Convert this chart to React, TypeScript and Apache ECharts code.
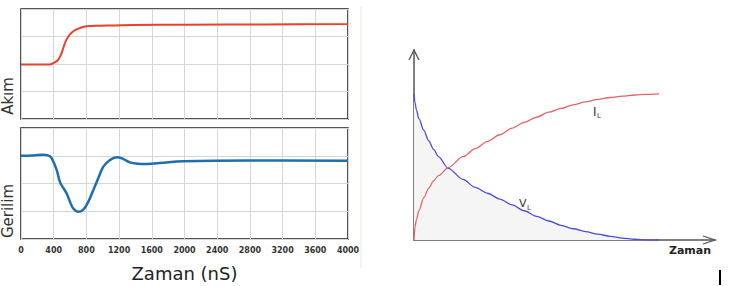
import React, { useEffect, useRef } from "react";
import * as echarts from "echarts";

// Left top panel: current (Akım) vs time in nS
const akimData: [number, number][] = [
  [0, 1.98], [200, 1.98], [350, 1.98], [395, 2.03], [456, 2.16], [497, 2.4], [538, 2.76],
  [579, 3.0], [640, 3.19], [722, 3.31], [803, 3.37], [966, 3.39], [1374, 3.42],
  [2000, 3.43], [3000, 3.44], [4000, 3.45],
];

// Left bottom panel: voltage (Gerilim) vs time in nS
const gerilimData: [number, number][] = [
  [0, 3.0], [150, 3.01], [273, 3.04], [355, 2.98], [395, 2.79], [436, 2.49], [477, 2.05],
  [517, 1.84], [559, 1.64], [599, 1.34], [640, 1.1], [701, 0.98], [762, 1.06], [823, 1.34],
  [884, 1.76], [945, 2.19], [1007, 2.61], [1088, 2.85], [1170, 2.95], [1252, 2.88],
  [1333, 2.76], [1435, 2.71], [1500, 2.7], [1700, 2.74], [1985, 2.8], [2800, 2.83], [4000, 2.82],
];

const timeTicks = { min: 0, max: 4000, interval: 400 };

// Right chart: inductor current and voltage (time in τ units)
const iLData: [number, number][] = [
  [0, 0], [0.02, 0.09], [0.05, 0.14], [0.1, 0.2], [0.2, 0.29], [0.3, 0.355], [0.4, 0.405],
  [0.5, 0.44], [0.7, 0.495], [1.0, 0.57], [1.25, 0.625], [1.5, 0.675], [1.75, 0.72],
  [2.0, 0.765], [2.25, 0.805], [2.5, 0.84], [2.75, 0.875], [3.0, 0.9], [3.25, 0.925],
  [3.5, 0.945], [3.75, 0.962], [4.0, 0.975], [4.25, 0.985], [4.5, 0.992], [4.75, 0.997], [5.0, 1.0],
];
const vLData: [number, number][] = [
  [0, 1.0], [0.02, 0.94], [0.05, 0.89], [0.1, 0.83], [0.2, 0.75], [0.3, 0.68], [0.4, 0.62],
  [0.5, 0.57], [0.7, 0.49], [1.0, 0.415], [1.25, 0.36], [1.5, 0.32], [1.75, 0.28],
  [2.0, 0.24], [2.25, 0.2], [2.5, 0.162], [2.75, 0.13], [3.0, 0.1], [3.25, 0.077],
  [3.5, 0.057], [3.75, 0.04], [4.0, 0.025], [4.25, 0.013], [4.5, 0.005], [4.75, 0.001], [5.0, 0],
];

const W = 729;
const H = 286;
const FONT = "DejaVu Sans";

const G0 = { left: 21, top: 9, width: 327, height: 110 };
const G1 = { left: 21, top: 128, width: 327, height: 111 };
const G2 = { left: 414, top: 50, width: 301, height: 190 };

export default function App() {
  const ref = useRef<HTMLDivElement>(null);
  useEffect(() => {
    if (!ref.current) return;
    const chart = echarts.init(ref.current, undefined, { renderer: "svg" });
    const panelGrid = (g: typeof G0) => ({
      ...g,
      show: true,
      borderColor: "#1c1c1c",
      borderWidth: 1.5,
      backgroundColor: "#fff",
    });
    const split = { show: true, lineStyle: { color: "#d6d6d6", width: 1 } };
    const r2Bottom = G2.top + G2.height;
    const r2Right = G2.left + G2.width;
    chart.setOption({
      animation: false,
      backgroundColor: "#fff",
      textStyle: { fontFamily: FONT },
      grid: [panelGrid(G0), panelGrid(G1), { ...G2, show: false }],
      xAxis: [
        {
          gridIndex: 0, type: "value", ...timeTicks,
          axisLabel: { show: false }, axisLine: { show: false }, axisTick: { show: false },
          splitLine: split,
        },
        {
          gridIndex: 1, type: "value", ...timeTicks,
          axisLabel: {
            show: true, fontSize: 8, fontWeight: "bold", color: "#333", margin: 7, fontFamily: FONT,
            formatter: (v: number) => String(v),
          },
          axisLine: { show: false }, axisTick: { show: false }, splitLine: split,
          name: "Zaman (nS)", nameLocation: "middle", nameGap: 25,
          nameTextStyle: { fontSize: 18, color: "#222", fontFamily: FONT },
        },
        {
          gridIndex: 2, type: "value", min: 0, max: 6.14,
          axisLabel: { show: false }, axisTick: { show: false }, splitLine: { show: false },
          axisLine: { show: true, lineStyle: { color: "#555", width: 1.5 } },
        },
      ],
      yAxis: [
        {
          gridIndex: 0, type: "value", min: 0, max: 4, interval: 1,
          axisLabel: { show: false }, axisLine: { show: false }, axisTick: { show: false },
          splitLine: split,
        },
        {
          gridIndex: 1, type: "value", min: 0, max: 4, interval: 1,
          axisLabel: { show: false }, axisLine: { show: false }, axisTick: { show: false },
          splitLine: split,
        },
        {
          gridIndex: 2, type: "value", min: 0, max: 1.3,
          axisLabel: { show: false }, axisTick: { show: false }, splitLine: { show: false },
          axisLine: { show: true, lineStyle: { color: "#555", width: 1.5 } },
        },
      ],
      series: [
        {
          name: "Akım", type: "line", xAxisIndex: 0, yAxisIndex: 0, data: akimData,
          smooth: 0.4, symbol: "none", lineStyle: { color: "#e8412c", width: 2 },
        },
        {
          name: "Gerilim", type: "line", xAxisIndex: 1, yAxisIndex: 1, data: gerilimData,
          smooth: 0.4, symbol: "none", lineStyle: { color: "#1f6fad", width: 2.5 },
        },
        {
          name: "VL", type: "line", xAxisIndex: 2, yAxisIndex: 2, data: vLData,
          smooth: 0.3, smoothMonotone: "x", symbol: "none", lineStyle: { color: "#4b4bdc", width: 1.3 },
          areaStyle: { color: "#f5f5f5", opacity: 1 },
        },
        {
          name: "IL", type: "line", xAxisIndex: 2, yAxisIndex: 2, data: iLData,
          smooth: 0.3, smoothMonotone: "x", symbol: "none", lineStyle: { color: "#e06464", width: 1.3 },
        },
      ],
      graphic: [
        {
          type: "text", x: 8, y: G0.top + 87, rotation: Math.PI / 2,
          style: { text: "Akım", fontSize: 15, fontFamily: FONT, fill: "#333", align: "center", verticalAlign: "middle" },
        },
        {
          type: "text", x: 8, y: G1.top + 83, rotation: Math.PI / 2,
          style: { text: "Gerilim", fontSize: 15, fontFamily: FONT, fill: "#333", align: "center", verticalAlign: "middle" },
        },
        {
          type: "line", shape: { x1: 361, y1: 7, x2: 361, y2: 268 },
          style: { stroke: "#ece7d8", lineWidth: 1 },
        },
        {
          type: "polyline",
          shape: { points: [[G2.left - 5, G2.top + 10], [G2.left, G2.top], [G2.left + 5, G2.top + 10]] },
          style: { stroke: "#555", lineWidth: 1.3, fill: "none" },
        },
        {
          type: "polyline",
          shape: { points: [[r2Right - 12, r2Bottom - 4], [r2Right, r2Bottom], [r2Right - 12, r2Bottom + 4]] },
          style: { stroke: "#555", lineWidth: 1.3, fill: "none" },
        },
        {
          type: "text", x: 690, y: 250,
          style: { text: "Zaman", fontSize: 11, fontWeight: "bold", fontFamily: FONT, fill: "#222", align: "center", verticalAlign: "middle" },
        },
        {
          type: "text", x: 593, y: 106,
          style: { text: "I", fontSize: 12, fontFamily: FONT, fill: "#333" },
        },
        {
          type: "text", x: 597, y: 112,
          style: { text: "L", fontSize: 7, fontFamily: FONT, fill: "#333" },
        },
        {
          type: "text", x: 519, y: 198,
          style: { text: "V", fontSize: 11, fontFamily: FONT, fill: "#333" },
        },
        {
          type: "text", x: 527, y: 204,
          style: { text: "L", fontSize: 7, fontFamily: FONT, fill: "#333" },
        },
        {
          type: "rect", shape: { x: 719, y: 270, width: 2, height: 15 },
          style: { fill: "#000" },
        },
      ],
    });
    return () => chart.dispose();
  }, []);
  return (
    <div
      ref={ref}
      style={{ position: "fixed", left: 0, top: 0, width: W, height: H, background: "#fff" }}
    />
  );
}
